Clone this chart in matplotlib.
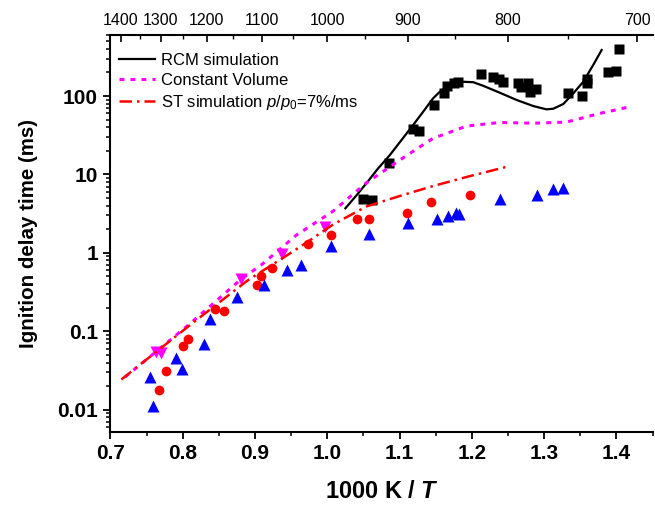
"""
Ignition delay times vs inverse temperature: RCM / shock-tube data with
RCM, constant-volume and ST (dp/dt) simulations, log y axis, T on top.
"""

import matplotlib

matplotlib.use("Agg")
import matplotlib.pyplot as plt  # noqa: E402
from matplotlib.ticker import (FixedLocator, FuncFormatter,  # noqa: E402
                               LogLocator, MultipleLocator, NullFormatter)

plt.rcParams["font.family"] = ["Liberation Sans", "DejaVu Sans"]
plt.rcParams["mathtext.fontset"] = "custom"
plt.rcParams["mathtext.rm"] = "Liberation Sans"
plt.rcParams["mathtext.it"] = "Liberation Sans:italic"
plt.rcParams["mathtext.bf"] = "Liberation Sans:bold"
plt.rcParams["mathtext.bfit"] = "Liberation Sans:bold:italic"

# RCM measurements (black squares)
rcm_x = [1.0495, 1.0625, 1.0855, 1.119, 1.127, 1.148, 1.161, 1.165, 1.175,
         1.181, 1.2125, 1.2295, 1.238, 1.2435, 1.264, 1.268, 1.278, 1.280,
         1.289, 1.3325, 1.353, 1.360, 1.360, 1.389, 1.400, 1.4036]
rcm_y = [4.9, 4.7, 14, 38, 36, 77, 108, 135, 148,
         152, 189, 177, 165, 150, 148, 130, 145, 114,
         122, 108, 101, 145, 165, 201, 209, 398]

# shock tube series (red circles)
st_red_x = [0.767, 0.777, 0.800, 0.807, 0.8445, 0.8575, 0.9031, 0.9087,
            0.923, 0.9738, 1.0047, 1.0417, 1.0578, 1.110, 1.143, 1.198]
st_red_y = [0.018, 0.031, 0.065, 0.079, 0.195, 0.18, 0.385, 0.50,
            0.65, 1.29, 1.71, 2.69, 2.74, 3.27, 4.47, 5.5]

# shock tube series (blue up triangles)
st_blue_x = [0.7586, 0.755, 0.7983, 0.791, 0.8288, 0.837, 0.875, 0.9123,
             0.9447, 0.9632, 1.0057, 1.0578, 1.1118, 1.152, 1.167, 1.178,
             1.182, 1.2388, 1.290, 1.3126, 1.3265]
st_blue_y = [0.0111, 0.026, 0.0333, 0.046, 0.068, 0.142, 0.273, 0.394,
             0.60, 0.695, 1.21, 1.73, 2.41, 2.74, 2.96, 3.2,
             3.11, 4.8, 5.4, 6.6, 6.75]

# shock tube series (magenta down triangles)
st_mag_x = [0.763, 0.770, 0.881, 0.9378, 0.9973]
st_mag_y = [0.054, 0.053, 0.46, 0.98, 2.14]

# simulations
sim_rcm_x = [1.025, 1.0403, 1.054, 1.0702, 1.0864, 1.1026, 1.1187, 1.1326,
             1.1464, 1.1556, 1.165, 1.1765, 1.188, 1.2019, 1.2157, 1.2388,
             1.262, 1.285, 1.3032, 1.3126, 1.3265, 1.3404, 1.3542, 1.368,
             1.3796]
sim_rcm_y = [3.7, 5.4, 7.7, 11.9, 17.6, 27.4, 42.6, 63,
             93.5, 113, 131, 148, 152, 150, 135, 110,
             89, 74.5, 67.6, 68.8, 79, 108, 152, 249,
             386]

sim_cv_x = [0.72, 0.81, 0.879, 0.911, 0.957, 1.008, 1.054, 1.100, 1.146,
            1.193, 1.239, 1.285, 1.331, 1.377, 1.419]
sim_cv_y = [0.026, 0.125, 0.447, 0.73, 1.68, 3.4, 7.8, 15.2, 28.8,
            41.4, 46, 45, 46.5, 60, 73]

sim_st_x = [0.715, 0.81, 0.89, 0.948, 0.976, 1.008, 1.054, 1.100, 1.146,
            1.193, 1.248]
sim_st_y = [0.0243, 0.12, 0.447, 0.98, 1.45, 2.3, 3.9, 5.3, 7.1,
            9.3, 12.5]

# top axis temperatures (K)
temps_major = [1400, 1300, 1200, 1100, 1000, 900, 800, 700]
temps_minor = [1350, 1250, 1150, 1050, 950, 850, 750]

fig = plt.figure(figsize=(6.55, 5.16), dpi=100)
ax = fig.add_axes([0.1687, 0.1628, 0.8275, 0.7694])

ax.plot(rcm_x, rcm_y, "s", color="black", ms=7, mec="none")
ax.plot(st_red_x, st_red_y, "o", color="#ff0000", ms=7, mec="none")
ax.plot(st_blue_x, st_blue_y, "^", color="#0000ff", ms=8, mec="none")
ax.plot(st_mag_x, st_mag_y, "v", color="#ff00ff", ms=8, mec="none")

ax.plot(sim_rcm_x, sim_rcm_y, "-", color="black", lw=1.6,
        label="RCM simulation")
ax.plot(sim_cv_x, sim_cv_y, color="#ff00ff", lw=2.2,
        ls=(0, (1.6, 2.0)), label="Constant Volume")
ax.plot(sim_st_x, sim_st_y, color="#ff0000", lw=1.8,
        ls=(0, (5, 2, 1, 2)), label=r"ST simulation $p$/$p_0$=7%/ms")

ax.set_yscale("log")
ax.set_xlim(0.7, 1.45)
ax.set_ylim(0.0052, 600)

ax.xaxis.set_major_locator(MultipleLocator(0.1))
ax.xaxis.set_minor_locator(MultipleLocator(0.05))
ax.xaxis.set_major_formatter(FuncFormatter(lambda v, p: f"{v:.1f}"))
ax.yaxis.set_major_locator(FixedLocator([0.01, 0.1, 1, 10, 100]))
ax.yaxis.set_major_formatter(FuncFormatter(lambda v, p: f"{v:g}"))
ax.yaxis.set_minor_locator(LogLocator(base=10, subs=range(2, 10)))
ax.yaxis.set_minor_formatter(NullFormatter())

for side in ("left", "bottom", "top"):
    ax.spines[side].set_linewidth(1.5)
ax.spines["right"].set_visible(False)

ax.tick_params(which="major", direction="out", length=5, width=1.3,
               labelsize=15, pad=4)
ax.tick_params(which="minor", direction="out", length=3, width=1.1)
for lab in ax.get_xticklabels() + ax.get_yticklabels():
    lab.set_fontweight("bold")

ax.set_xlabel(r"1000 K / $\mathbfit{T}$", fontsize=17, fontweight="bold",
              labelpad=12)
ax.set_ylabel("Ignition delay time (ms)", fontsize=14.8, fontweight="bold",
              labelpad=14)

# top axis: temperature
top = ax.twiny()
top.set_xlim(ax.get_xlim())
top.xaxis.set_major_locator(FixedLocator([1000 / t for t in temps_major]))
top.xaxis.set_major_formatter(FuncFormatter(
    lambda v, p: f"{round(1000 / v):d}"))
top.xaxis.set_minor_locator(FixedLocator([1000 / t for t in temps_minor]))
top.tick_params(which="major", direction="in", length=5, width=1.2,
                labelsize=11.5, pad=5)
top.tick_params(which="minor", direction="in", length=3, width=1.0)
for side in ("left", "bottom", "top", "right"):
    top.spines[side].set_visible(False)

ax.legend(loc="upper left", bbox_to_anchor=(0.0, 0.975), frameon=False,
          fontsize=12, handlelength=2.2, handletextpad=0.35,
          labelspacing=0.3, borderaxespad=0.1)

fig.savefig("out.png", dpi=100)
